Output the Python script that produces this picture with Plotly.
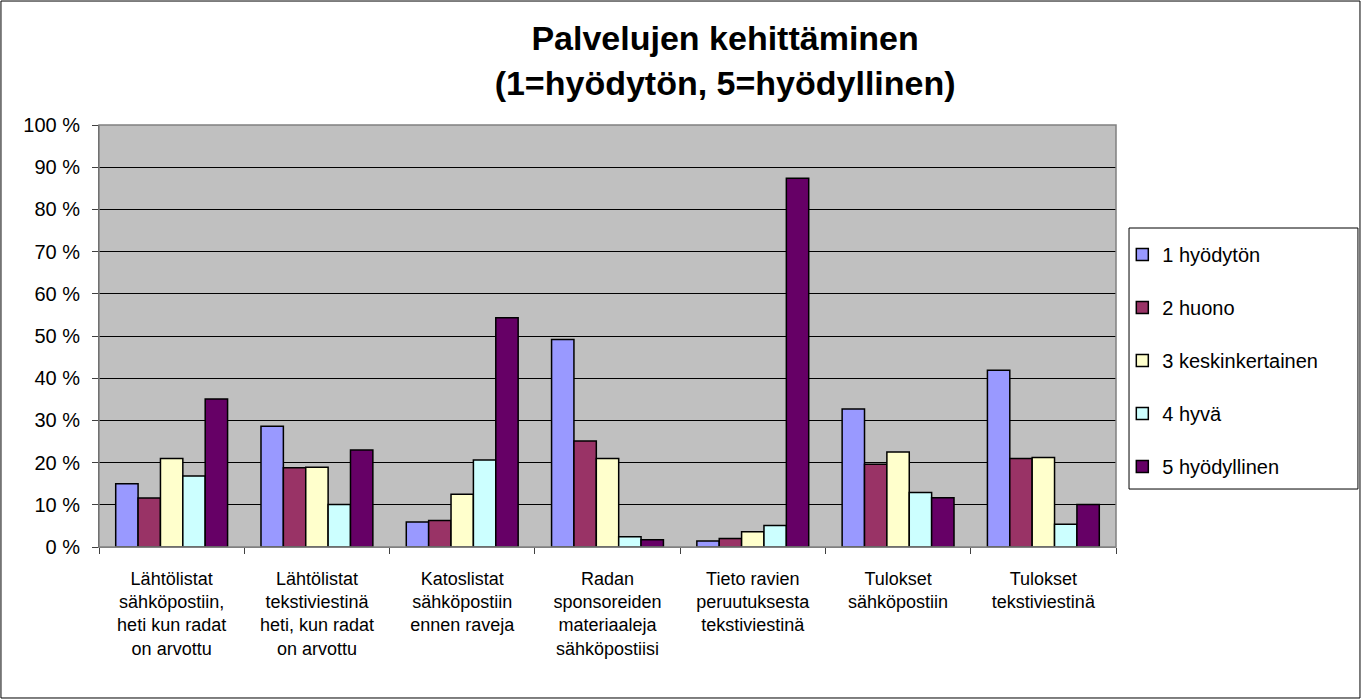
import plotly.graph_objects as go

categories = [
    "Lähtölistat<br>sähköpostiin,<br>heti kun radat<br>on arvottu",
    "Lähtölistat<br>tekstiviestinä<br>heti, kun radat<br>on arvottu",
    "Katoslistat<br>sähköpostiin<br>ennen raveja",
    "Radan<br>sponsoreiden<br>materiaaleja<br>sähköpostiisi",
    "Tieto ravien<br>peruutuksesta<br>tekstiviestinä",
    "Tulokset<br>sähköpostiin",
    "Tulokset<br>tekstiviestinä",
]

series_names = ["1 hyödytön", "2 huono", "3 keskinkertainen", "4 hyvä", "5 hyödyllinen"]

hyodyton = [15.0, 28.6, 5.9, 49.2, 1.4, 32.7, 41.9]
huono = [11.6, 18.8, 6.3, 25.1, 2.0, 19.6, 21.0]
keskinkertainen = [21.0, 18.9, 12.5, 21.0, 3.6, 22.5, 21.2]
hyva = [16.8, 10.1, 20.6, 2.4, 5.1, 12.9, 5.4]
hyodyllinen = [35.1, 23.0, 54.3, 1.7, 87.4, 11.7, 10.1]

colors = ["#9999FF", "#993366", "#FFFFCC", "#CCFFFF", "#660066"]

fig = go.Figure()
for name, vals, col in zip(series_names,
                           [hyodyton, huono, keskinkertainen, hyva, hyodyllinen],
                           colors):
    fig.add_trace(go.Bar(x=categories, y=vals, name=name, legendgroup=name,
                         marker=dict(color=col, line=dict(color="black", width=1.5))))

font = "Liberation Sans, Arial, sans-serif"

fig.update_layout(
    width=1363, height=700,
    margin=dict(l=99, r=247, t=125, b=153),
    paper_bgcolor="white",
    plot_bgcolor="#C0C0C0",
    font=dict(family=font, size=18, color="black"),
    title=dict(text="<b>Palvelujen kehittäminen<br>(1=hyödytön, 5=hyödyllinen)</b>",
               x=0.532, xanchor="center", y=0.928, yanchor="middle",
               font=dict(size=34, family=font)),
    barmode="group", bargap=0.23, bargroupgap=0,
    legend=dict(x=1.0062, y=0.7395, xanchor="left", yanchor="top",
                borderwidth=0, bgcolor="rgba(0,0,0,0)",
                font=dict(size=20, family=font), tracegroupgap=24,
                itemwidth=30),
    showlegend=True,
)

fig.update_yaxes(range=[0, 100], dtick=10, ticksuffix=" %",
                 showgrid=True, gridcolor="black", gridwidth=1,
                 ticks="outside", ticklen=6, tickcolor="#404040",
                 showline=True, linecolor="#404040", linewidth=1,
                 zeroline=False, tickfont=dict(size=20), ticklabelstandoff=8)
fig.update_xaxes(tickson="boundaries", ticks="outside", ticklen=6,
                 tickcolor="#404040", showline=True, linecolor="#808080",
                 linewidth=1, tickfont=dict(size=18), tickangle=0,
                 ticklabelstandoff=15)

# plot border, legend box and outer chart frame
fig.add_shape(type="rect", xref="paper", yref="paper", x0=0, y0=0, x1=1, y1=1,
              line=dict(color="#808080", width=1.5), layer="above")
fig.add_shape(type="rect", xref="paper", yref="paper",
              x0=1.0128, y0=0.1374, x1=1.2379, y1=0.7559,
              line=dict(color="black", width=1))
fig.add_shape(type="rect", xref="paper", yref="paper",
              x0=-0.0964, y0=-0.3578, x1=1.2399, y1=1.2938,
              line=dict(color="black", width=1))

fig.write_html("out.html", config={"displayModeBar": False},
               post_script="document.body.style.margin='0';")
